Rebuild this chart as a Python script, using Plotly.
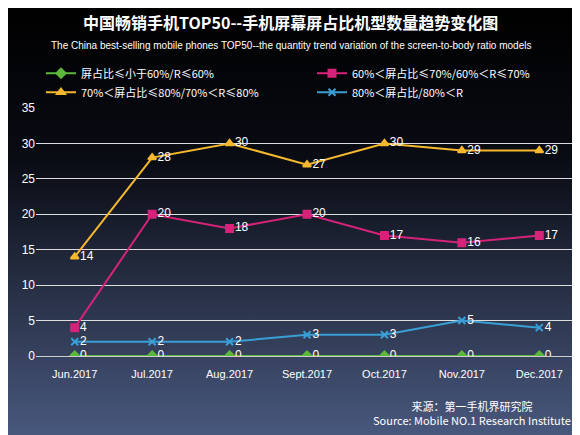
import base64
import plotly.graph_objects as go

months = ["Jun.2017", "Jul.2017", "Aug.2017", "Sept.2017", "Oct.2017", "Nov.2017", "Dec.2017"]
s60 = [0, 0, 0, 0, 0, 0, 0]
s70 = [4, 20, 18, 20, 17, 16, 17]
s80 = [14, 28, 30, 27, 30, 29, 29]
s80p = [2, 2, 2, 3, 3, 5, 4]

names = ["屏占比≤小于60%/R≤60%", "60%＜屏占比≤70%/60%＜R≤70%",
         "70%＜屏占比≤80%/70%＜R≤80%", "80%＜屏占比/80%＜R"]
colors = ["#5cb83a", "#d6237a", "#f5b82e", "#3a9fd6"]
symbols = ["diamond", "square", "triangle-up", "x-thin"]

# gradient background as an inline svg
svg = ('<svg xmlns="http://www.w3.org/2000/svg" width="580" height="435">'
       '<defs><linearGradient id="g" x1="0" y1="0" x2="0" y2="1">'
       '<stop offset="0" stop-color="#000"/><stop offset="0.35" stop-color="#0a0c14"/>'
       '<stop offset="1" stop-color="#4a5a80"/></linearGradient></defs>'
       '<rect width="580" height="435" fill="url(#g)"/></svg>')
bg = "data:image/svg+xml;base64," + base64.b64encode(svg.encode()).decode()

fig = go.Figure()
for vals, nm, c, sym in zip([s60, s70, s80, s80p], names, colors, symbols):
    fig.add_trace(go.Scatter(
        x=months, y=vals, name=nm, mode="lines+markers+text",
        text=[str(v) for v in vals], textposition="middle right",
        textfont=dict(color="white", size=12, family="Arial"),
        line=dict(color=c, width=2),
        marker=dict(symbol=sym, size=7, color=c, line=dict(color=c, width=2)),
    ))

fig.update_layout(
    width=580, height=435,
    margin=dict(l=28, r=10, t=100, b=87),
    paper_bgcolor="black", plot_bgcolor="rgba(0,0,0,0)",
    images=[dict(source=bg, xref="paper", yref="paper", x=-28/542, y=1 + 100/248,
                 sizex=580/542, sizey=435/248, sizing="stretch", layer="below")],
    font=dict(family="Noto Sans CJK SC, Arial", color="white"),
    legend=dict(orientation="h", x=0.03, y=1.005, xanchor="left", yanchor="bottom",
                entrywidth=0.5, entrywidthmode="fraction",
                font=dict(size=11, color="white"),
                bgcolor="rgba(0,0,0,0)", tracegroupgap=0),
    xaxis=dict(showgrid=False, tickfont=dict(size=11, family="Arial", color="white"),
               showline=True, linecolor="#cccccc", range=[-0.5, 6.5],
               ticklabelstandoff=8),
    yaxis=dict(range=[0, 35], dtick=5, gridcolor="#dddddd", gridwidth=1,
               tickfont=dict(size=12, family="Arial", color="white"), zeroline=False),
    annotations=[
        dict(text="<b>中国畅销手机TOP50--手机屏幕屏占比机型数量趋势变化图</b>",
             xref="paper", yref="paper", x=0.47, y=1 + 72/248, xanchor="center",
             yanchor="bottom", showarrow=False, font=dict(size=16, color="white")),
        dict(text="The China best-selling mobile phones TOP50--the quantity trend variation of the screen-to-body ratio models",
             xref="paper", yref="paper", x=0.47, y=1 + 70/248, xanchor="center",
             yanchor="top", showarrow=False,
             font=dict(size=10, color="white", family="Arial")),
        dict(text="来源：第一手机界研究院<br>Source: Mobile NO.1 Research Institute",
             xref="paper", yref="paper", x=0.99, y=-0.16, xanchor="right",
             yanchor="top", showarrow=False, align="center",
             font=dict(size=11, color="white")),
    ],
)

fig.write_html("out.html")
